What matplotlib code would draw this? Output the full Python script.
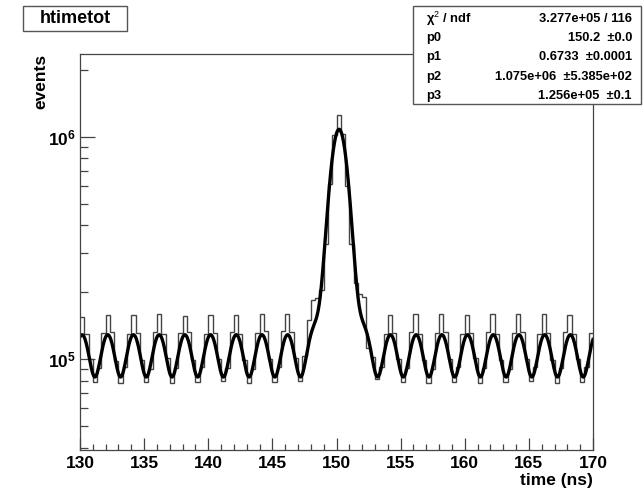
import numpy as np
import matplotlib
matplotlib.use('Agg')
from matplotlib import pyplot as plt
from matplotlib.patches import Rectangle
from matplotlib.ticker import LogLocator, NullFormatter, FixedLocator, FixedFormatter

plt.rcParams['font.family'] = ['Liberation Sans', 'DejaVu Sans']
plt.rcParams['mathtext.fontset'] = 'custom'
plt.rcParams['mathtext.rm'] = 'Liberation Sans'
plt.rcParams['mathtext.bf'] = 'Liberation Sans:bold'
plt.rcParams['mathtext.it'] = 'Liberation Sans:italic'

# histogram: 120 bins from 130 to 170 ns
x_lo, x_hi, nbins = 130.0, 170.0, 120
counts = [
    155e3, 130e3, 100e3, 79e3, 91e3, 131e3,
    158e3, 132e3, 98e3, 78e3, 92e3, 130e3,
    157e3, 131e3, 99e3, 79e3, 90e3, 132e3,
    159e3, 130e3, 101e3, 78e3, 91e3, 131e3,
    156e3, 132e3, 99e3, 79e3, 92e3, 130e3,
    158e3, 131e3, 100e3, 80e3, 91e3, 132e3,
    157e3, 130e3, 99e3, 78e3, 90e3, 131e3,
    160e3, 133e3, 100e3, 79e3, 92e3, 133e3,
    159e3, 132e3, 101e3, 80e3, 103e3, 150e3,
    185e3, 188e3, 205e3, 330e3, 610e3, 1020e3,
    1250e3, 1030e3, 600e3, 330e3, 220e3, 195e3,
    190e3, 112e3, 102e3, 81e3, 92e3, 130e3,
    158e3, 131e3, 100e3, 79e3, 91e3, 132e3,
    160e3, 130e3, 99e3, 78e3, 90e3, 131e3,
    159e3, 132e3, 100e3, 79e3, 92e3, 130e3,
    158e3, 131e3, 101e3, 78e3, 91e3, 132e3,
    159e3, 130e3, 99e3, 79e3, 90e3, 131e3,
    160e3, 132e3, 100e3, 80e3, 92e3, 130e3,
    159e3, 131e3, 99e3, 78e3, 91e3, 132e3,
    157e3, 130e3, 100e3, 79e3, 92e3, 131e3,
]

# fit parameters from the stats box
chi2_text = '3.277e+05 / 116'
par_names = ['p0', 'p1', 'p2', 'p3']
par_text = ['150.2  \u00b10.0', '0.6733  \u00b10.0001', '1.075e+06  \u00b15.385e+02', '1.256e+05  \u00b10.1']
p0, p1, p2, p3 = 150.2, 0.6733, 1.075e6, 1.256e5
rf_period = 2.004   # bunch spacing seen in the picture


def fitfunc(x):
    # main gaussian plus the neighbouring beam buckets (same width)
    y = p2 * np.exp(-0.5 * ((x - p0) / p1) ** 2)
    for k in range(-12, 13):
        if k == 0:
            continue
        y = y + p3 * np.exp(-0.5 * ((x - p0 - k * rf_period) / p1) ** 2)
    return y


W, H = 643, 492
fig = plt.figure(figsize=(W / 100, H / 100), dpi=100)
ax = fig.add_axes([80 / W, 1 - 450 / H, 513 / W, 396 / H])

edges = np.linspace(x_lo, x_hi, nbins + 1)
ax.stairs(counts, edges, baseline=None, color='#444444', lw=1.0)

xf = np.linspace(x_lo, x_hi, 1500)
ax.plot(xf, fitfunc(xf), color='black', lw=2.4)

ax.set_yscale('log')
ax.set_xlim(x_lo, x_hi)
ax.set_ylim(3.9e4, 2.35e6)

# ticks like ROOT: inside, left and bottom only
ax.set_xticks([130, 135, 140, 145, 150, 155, 160, 165, 170])
ax.set_xticklabels(['130', '135', '140', '145', '150', '155', '160', '165', '170'],
                   fontsize=12.5, fontweight='bold')
ax.xaxis.set_minor_locator(FixedLocator(np.arange(130, 171, 1)))
ax.yaxis.set_major_locator(FixedLocator([1e5, 1e6]))
ax.yaxis.set_major_formatter(FixedFormatter([r'$\mathbf{10^{5}}$', r'$\mathbf{10^{6}}$']))
ax.yaxis.set_minor_locator(LogLocator(base=10, subs=np.arange(2, 10)))
ax.yaxis.set_minor_formatter(NullFormatter())
for lab in ax.get_yticklabels():
    lab.set_fontsize(12.5)

ax.tick_params(axis='x', which='major', direction='in', length=9, width=0.9, color='#444444', pad=4)
ax.tick_params(axis='x', which='minor', direction='in', length=4.5, width=0.9, color='#444444')
ax.tick_params(axis='y', which='major', direction='in', length=11, width=0.9, color='#444444', pad=3)
ax.tick_params(axis='y', which='minor', direction='in', length=5.5, width=0.9, color='#444444')
for s in ax.spines.values():
    s.set_color('#444444')
    s.set_linewidth(0.9)

fig.text(593 / W, 1 - 480 / H, 'time (ns)', ha='right', va='center', fontsize=12.5, fontweight='bold')
fig.text(41 / W, 1 - 54 / H, 'events', ha='center', va='top', rotation=90, fontsize=12.5, fontweight='bold')

# title box
fig.patches.append(Rectangle((23 / W, 1 - 31 / H), 104 / W, 25 / H, transform=fig.transFigure,
                             fc='white', ec='#555555', lw=1.0))
fig.text(75 / W, 1 - 18.5 / H, 'htimetot', ha='center', va='center', fontsize=13, fontweight='bold')

# stats box
fig.patches.append(Rectangle((413 / W, 1 - 104 / H), 228 / W, 98 / H, transform=fig.transFigure,
                             fc='white', ec='#555555', lw=1.0, zorder=5))
rows_y = [19, 38, 57, 77, 96]
fs = 9.3
fig.text(426 / W, 1 - rows_y[0] / H, '\u03c7$^{2}$ / ndf', ha='left', va='center', fontsize=fs, fontweight='bold', zorder=6)
fig.text(632 / W, 1 - rows_y[0] / H, chi2_text, ha='right', va='center', fontsize=fs, fontweight='bold', zorder=6)
for i in range(4):
    fig.text(426 / W, 1 - rows_y[i + 1] / H, par_names[i], ha='left', va='center', fontsize=fs, fontweight='bold', zorder=6)
    fig.text(632 / W, 1 - rows_y[i + 1] / H, par_text[i], ha='right', va='center', fontsize=fs, fontweight='bold', zorder=6)

fig.savefig('out.png', dpi=100)
